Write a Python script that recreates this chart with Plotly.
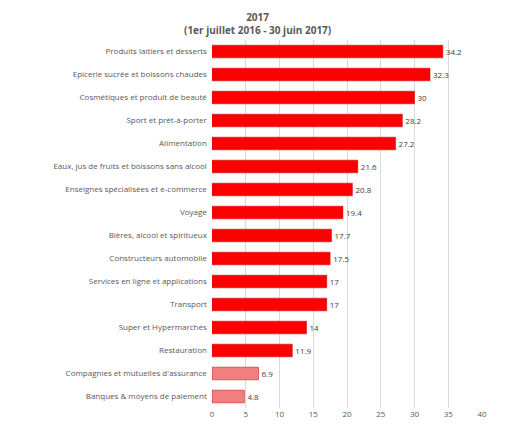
import plotly.graph_objects as go

categories = [
    "Produits laitiers et desserts",
    "Epicerie sucrée et boissons chaudes",
    "Cosmétiques et produit de beauté",
    "Sport et prêt-à-porter",
    "Alimentation",
    "Eaux, jus de fruits et boissons sans alcool",
    "Enseignes spécialisées et e-commerce",
    "Voyage",
    "Bières, alcool et spiritueux",
    "Constructeurs automobile",
    "Services en ligne et applications",
    "Transport",
    "Super et Hypermarchés",
    "Restauration",
    "Compagnies et mutuelles d'assurance",
    "Banques & moyens de paiement",
]
values = [34.2, 32.3, 30, 28.2, 27.2, 21.6, 20.8, 19.4, 17.7, 17.5, 17, 17, 14, 11.9, 6.9, 4.8]
labels = ["34.2", "32.3", "30", "28.2", "27.2", "21.6", "20.8", "19.4", "17.7", "17.5", "17", "17", "14", "11.9", "6.9", "4.8"]
colors = ["#ff0000"] * 14 + ["#f08080"] * 2

fig = go.Figure(go.Bar(
    y=categories, x=values, orientation="h",
    marker=dict(color=colors, line=dict(color="#c00000", width=0.5)),
    text=labels, textposition="outside", cliponaxis=False,
    textfont=dict(size=8, color="#404040"),
    width=0.55,
))

fig.update_layout(
    width=511, height=428,
    margin=dict(l=204, r=37, t=32, b=28),
    paper_bgcolor="white", plot_bgcolor="white",
    font=dict(family="Open Sans", size=8, color="#595959"),
    showlegend=False,
    bargap=0.45,
)
fig.add_annotation(text="<b>2017</b><br><b>(1er juillet 2016 - 30 juin 2017)</b>",
                   xref="paper", yref="paper", x=0.17, y=1, yshift=32,
                   xanchor="center", yanchor="top", showarrow=False,
                   font=dict(size=10, color="#595959"))
fig.update_xaxes(range=[0, 40], dtick=5, showgrid=True, gridcolor="#d9d9d9",
                 zeroline=False, automargin=False, tickfont=dict(size=8, color="#595959"))
fig.update_yaxes(autorange="reversed", ticksuffix="  ", automargin=False,
                 tickfont=dict(size=8, color="#595959"))

fig.write_html("out.html")
